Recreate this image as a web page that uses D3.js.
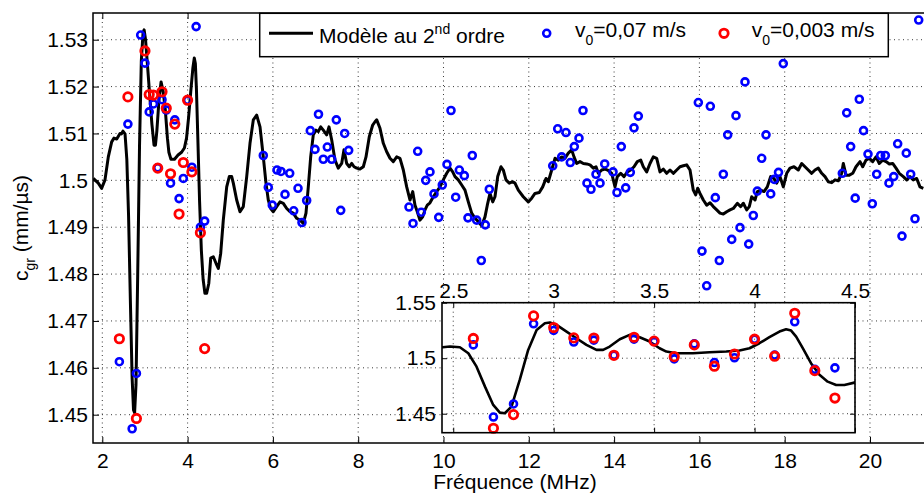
<!DOCTYPE html>
<html>
<head>
<meta charset="utf-8">
<script src="https://cdn.jsdelivr.net/npm/d3@7"></script>
<style>
  body { margin: 0; background: #fff; }
  svg { display: block; font-family: "Liberation Sans", Arial, sans-serif; }
</style>
</head>
<body>
<svg width="924" height="493"></svg>
<script>
// modele au 2nd ordre : [frequence MHz, c_gr mm/us]
const model = [
  [1.789,1.5004],[1.906,1.4994],[1.986,1.4983],[2.063,1.5001],[2.141,1.5050],[2.220,1.5082],
  [2.274,1.5090],[2.338,1.5088],[2.415,1.5100],[2.447,1.5099],[2.484,1.5105],[2.533,1.5099],
  [2.575,1.5045],[2.616,1.4924],[2.658,1.4744],[2.699,1.4579],[2.732,1.4510],[2.757,1.4504],
  [2.790,1.4564],[2.831,1.4804],[2.873,1.5075],[2.915,1.5255],[2.956,1.5315],[2.981,1.5321],
  [3.014,1.5300],[3.064,1.5240],[3.113,1.5180],[3.163,1.5120],[3.213,1.5075],[3.246,1.5075],
  [3.279,1.5105],[3.329,1.5171],[3.378,1.5210],[3.428,1.5189],[3.478,1.5150],[3.527,1.5090],
  [3.561,1.5060],[3.610,1.5045],[3.693,1.5045],[3.776,1.5054],[3.859,1.5060],[3.925,1.5069],
  [3.975,1.5090],[4.024,1.5135],[4.074,1.5189],[4.124,1.5240],[4.157,1.5261],[4.182,1.5249],
  [4.207,1.5195],[4.240,1.5090],[4.281,1.4955],[4.323,1.4850],[4.364,1.4789],[4.406,1.4759],
  [4.447,1.4759],[4.497,1.4780],[4.542,1.4834],[4.603,1.4837],[4.666,1.4823],[4.720,1.4812],
  [4.776,1.4844],[4.837,1.4915],[4.917,1.4986],[4.978,1.5008],[5.034,1.5008],[5.072,1.4994],
  [5.151,1.4958],[5.229,1.4933],[5.306,1.4944],[5.386,1.5008],[5.463,1.5079],[5.541,1.5129],
  [5.620,1.5139],[5.698,1.5114],[5.775,1.5050],[5.838,1.4994],[5.892,1.4958],[5.948,1.4940],
  [6.009,1.4933],[6.089,1.4944],[6.166,1.4954],[6.244,1.4951],[6.324,1.4940],[6.401,1.4933],
  [6.478,1.4930],[6.558,1.4919],[6.635,1.4915],[6.713,1.4908],[6.776,1.4930],[6.830,1.4986],
  [6.886,1.5050],[6.947,1.5097],[7.011,1.5107],[7.064,1.5104],[7.121,1.5114],[7.182,1.5107],
  [7.261,1.5097],[7.315,1.5114],[7.379,1.5086],[7.456,1.5043],[7.533,1.5026],[7.613,1.5036],
  [7.667,1.5065],[7.730,1.5036],[7.791,1.5029],[7.848,1.5036],[7.902,1.5029],[7.965,1.5026],
  [8.042,1.5024],[8.120,1.5029],[8.183,1.5050],[8.260,1.5093],[8.340,1.5118],[8.394,1.5125],
  [8.434,1.5129],[8.511,1.5111],[8.589,1.5079],[8.668,1.5061],[8.746,1.5047],[8.823,1.5040],
  [8.903,1.5050],[8.980,1.5047],[9.058,1.5022],[9.137,1.4986],[9.215,1.4958],[9.278,1.4976],
  [9.332,1.4947],[9.386,1.4933],[9.449,1.4915],[9.512,1.4922],[9.566,1.4937],[9.620,1.4947],
  [9.683,1.4952],[9.761,1.4965],[9.840,1.4976],[9.918,1.4986],[9.995,1.5001],[10.075,1.5015],
  [10.153,1.5026],[10.216,1.5018],[10.270,1.5008],[10.347,1.5001],[10.427,1.4990],[10.504,1.4979],
  [10.582,1.4954],[10.661,1.4930],[10.739,1.4919],[10.816,1.4912],[10.896,1.4903],[10.973,1.4922],
  [11.027,1.4947],[11.090,1.4972],[11.154,1.4954],[11.207,1.4965],[11.271,1.5008],[11.348,1.5029],
  [11.402,1.5022],[11.465,1.5001],[11.543,1.4994],[11.622,1.4997],[11.676,1.4994],[11.754,1.4979],
  [11.871,1.4965],[11.988,1.4954],[12.068,1.4962],[12.145,1.4972],[12.246,1.4974],[12.326,1.4986],
  [12.403,1.5004],[12.457,1.4997],[12.537,1.5022],[12.614,1.5047],[12.692,1.5043],[12.771,1.5050],
  [12.849,1.5047],[12.926,1.5058],[13.006,1.5065],[13.060,1.5050],[13.123,1.5036],[13.200,1.5040],
  [13.278,1.5036],[13.358,1.5035],[13.435,1.5033],[13.513,1.5026],[13.576,1.5029],[13.630,1.5015],
  [13.709,1.5022],[13.787,1.5024],[13.864,1.5021],[13.944,1.5015],[14.021,1.4986],[14.075,1.5008],
  [14.155,1.5015],[14.232,1.5008],[14.310,1.5018],[14.389,1.5022],[14.467,1.5029],[14.544,1.5040],
  [14.624,1.5043],[14.685,1.5029],[14.764,1.5018],[14.842,1.5036],[14.919,1.5050],[14.999,1.5047],
  [15.076,1.5018],[15.154,1.5024],[15.233,1.5015],[15.311,1.5022],[15.388,1.5015],[15.468,1.5022],
  [15.545,1.5029],[15.623,1.5031],[15.702,1.5033],[15.780,1.5022],[15.857,1.4979],[15.913,1.4969],
  [15.960,1.4983],[16.014,1.4972],[16.092,1.4958],[16.171,1.4947],[16.249,1.4952],[16.326,1.4944],
  [16.406,1.4937],[16.483,1.4930],[16.561,1.4928],[16.640,1.4933],[16.718,1.4937],[16.795,1.4940],
  [16.889,1.4951],[16.969,1.4944],[17.030,1.4951],[17.109,1.4937],[17.170,1.4944],[17.226,1.4965],
  [17.304,1.4958],[17.358,1.4976],[17.437,1.4979],[17.515,1.4976],[17.592,1.4986],[17.672,1.5008],
  [17.749,1.5004],[17.812,1.4994],[17.890,1.5008],[17.967,1.4986],[18.047,1.5015],[18.124,1.5026],
  [18.218,1.5029],[18.319,1.5022],[18.399,1.5036],[18.476,1.5029],[18.553,1.5022],[18.633,1.5015],
  [18.711,1.5022],[18.788,1.5026],[18.868,1.5015],[18.945,1.5008],[19.022,1.4997],[19.102,1.4995],
  [19.180,1.5001],[19.257,1.4999],[19.336,1.5015],[19.374,1.5036],[19.437,1.5011],[19.515,1.5011],
  [19.595,1.5015],[19.672,1.5029],[19.766,1.5040],[19.829,1.5029],[19.906,1.5043],[19.984,1.5047],
  [20.063,1.5040],[20.141,1.5050],[20.218,1.5036],[20.297,1.5043],[20.375,1.5040],[20.453,1.5035],
  [20.532,1.5036],[20.610,1.5026],[20.687,1.5015],[20.781,1.5008],[20.861,1.5001],[20.938,1.5008],
  [21.015,1.5001],[21.095,1.5004],[21.172,1.4986],[21.250,1.4983]
];

// mesures v0 = 0,07 m/s
const blue = [
  [2.4,1.4613],[2.6,1.5120],[2.7,1.4470],[2.8,1.4588],[2.9,1.5310],[3.0,1.5250],[3.1,1.5146],
  [3.2,1.5163],[3.3,1.5027],[3.4,1.5172],[3.5,1.5150],[3.6,1.4994],[3.7,1.5129],[3.8,1.4961],
  [3.9,1.5004],[4.0,1.5171],[4.1,1.5028],[4.2,1.5328],[4.3,1.4900],[4.4,1.4913],
  [5.775,1.5053],[5.892,1.4985],[5.986,1.4947],[6.096,1.5022],[6.190,1.5019],[6.284,1.4970],
  [6.394,1.5015],[6.488,1.4935],[6.589,1.4983],[6.682,1.4910],[6.792,1.4957],[6.877,1.5106],
  [6.987,1.5066],[7.069,1.5141],[7.182,1.5045],[7.276,1.5071],[7.379,1.5045],[7.487,1.5129],
  [7.590,1.4936],[7.683,1.5100],[7.777,1.5064],
  [9.191,1.4943],[9.285,1.4908],[9.395,1.5062],[9.479,1.4932],[9.583,1.5000],[9.683,1.5018],
  [9.777,1.4971],[9.888,1.4921],[9.972,1.4990],[10.082,1.5034],[10.176,1.5149],[10.286,1.4964],
  [10.371,1.5022],[10.488,1.5010],[10.574,1.4920],[10.675,1.5053],[10.778,1.4915],[10.886,1.4829],
  [10.980,1.4905],[11.074,1.4981],
  [12.561,1.5031],[12.678,1.5110],[12.771,1.5050],[12.872,1.5102],[12.973,1.5038],[13.067,1.5072],
  [13.177,1.5090],[13.271,1.5149],[13.364,1.4994],[13.458,1.4981],[13.576,1.5013],[13.670,1.4994],
  [13.780,1.5035],[13.975,1.5018],[14.068,1.4974],[14.169,1.5072],[14.272,1.4984],[14.380,1.5017],
  [14.467,1.5112],[14.568,1.5137],
  [15.975,1.5166],[16.061,1.4849],[16.171,1.4775],[16.256,1.5158],[16.373,1.4963],[16.467,1.4829],
  [16.561,1.5013],[16.664,1.5097],[16.758,1.4874],[16.858,1.5138],[16.952,1.4899],[17.069,1.5210],
  [17.156,1.4864],[17.264,1.4925],[17.358,1.4977],[17.461,1.5047],[17.562,1.5097],[17.672,1.4971],
  [17.756,1.5002],[17.855,1.5017],[17.967,1.5249],
  [19.351,1.5015],[19.454,1.5144],[19.547,1.5072],[19.653,1.4962],[19.749,1.5173],[19.848,1.5106],
  [19.953,1.5056],[20.054,1.4950],[20.157,1.5013],[20.251,1.5053],[20.359,1.5053],[20.445,1.4994],
  [20.556,1.5008],[20.649,1.5078],[20.750,1.4881],[20.851,1.5058],[20.954,1.5013],[21.055,1.4918],
  [21.142,1.5342]
];

// mesures v0 = 0,003 m/s
const red = [
  [2.4,1.4662],[2.6,1.5178],[2.7,1.4369],[2.8,1.4492],[2.9,1.5381],[3.0,1.5276],[3.1,1.5183],
  [3.2,1.5182],[3.3,1.5026],[3.4,1.5189],[3.5,1.5154],[3.6,1.5014],[3.7,1.5120],[3.8,1.4928],
  [3.9,1.5038],[4.0,1.5171],[4.1,1.5018],[4.2,1.5405],[4.3,1.4888],[4.4,1.4641]
];

const xTicks = [2, 4, 6, 8, 10, 12, 14, 16, 18, 20];
const yTicks = [1.45, 1.46, 1.47, 1.48, 1.49, 1.5, 1.51, 1.52, 1.53];
const insetXTicks = [2.5, 3, 3.5, 4, 4.5];
const insetYTicks = [1.45, 1.5, 1.55];

const fmt = d => String(+d.toFixed(2));

const svg = d3.select("svg");

// main axes
const x = d3.scaleLinear().domain([1.782, 21.571]).range([93, 937]);
const y = d3.scaleLinear().domain([1.44396, 1.5357]).range([443, 13]);

const defs = svg.append("defs");
defs.append("clipPath").attr("id", "clipMain")
  .append("rect").attr("x", 93).attr("y", 13).attr("width", 844).attr("height", 430);
defs.append("clipPath").attr("id", "clipInset")
  .append("rect").attr("x", 442).attr("y", 302.7).attr("width", 413).attr("height", 130);

function drawPanel(g, xs, ys, xt, yt, clipId, lw) {
  const [x0, x1] = xs.range(), [y0, y1] = ys.range();
  const grid = g.append("g")
    .attr("stroke", "#222").attr("stroke-width", 0.9).attr("stroke-dasharray", "1,3.5");
  grid.selectAll(".gx").data(xt).join("line").attr("class", "gx")
    .attr("x1", d => xs(d)).attr("x2", d => xs(d)).attr("y1", y1).attr("y2", y0);
  grid.selectAll(".gy").data(yt).join("line").attr("class", "gy")
    .attr("y1", d => ys(d)).attr("y2", d => ys(d)).attr("x1", x0).attr("x2", x1);

  const inX = d => d[0] >= xs.domain()[0] && d[0] <= xs.domain()[1];
  const inY = d => d[1] >= ys.domain()[0] && d[1] <= ys.domain()[1];

  g.append("path")
    .datum(model)
    .attr("clip-path", `url(#${clipId})`)
    .attr("fill", "none")
    .attr("stroke", "#000")
    .attr("stroke-width", lw)
    .attr("stroke-linejoin", "round")
    .attr("d", d3.line().x(d => xs(d[0])).y(d => ys(d[1])));

  g.append("g").selectAll("circle")
    .data(blue.filter(d => inX(d) && inY(d)))
    .join("circle")
      .attr("cx", d => xs(d[0])).attr("cy", d => ys(d[1])).attr("r", 3.5)
      .attr("fill", "none").attr("stroke", "#0000ff").attr("stroke-width", 2.6);

  g.append("g").selectAll("circle")
    .data(red.filter(d => inX(d) && inY(d)))
    .join("circle")
      .attr("cx", d => xs(d[0])).attr("cy", d => ys(d[1])).attr("r", 4.2)
      .attr("fill", "none").attr("stroke", "#ff0000").attr("stroke-width", 2.8);
}

const main = svg.append("g");
drawPanel(main, x, y, xTicks, yTicks, "clipMain", 3);

main.append("g")
  .attr("transform", "translate(0,443)")
  .call(d3.axisBottom(x).tickValues(xTicks).tickFormat(fmt).tickSize(-6).tickPadding(10))
  .call(g => g.select(".domain").remove());
main.append("g")
  .attr("transform", "translate(0,13)")
  .call(d3.axisTop(x).tickValues(xTicks).tickFormat("").tickSize(-6))
  .call(g => g.select(".domain").remove());
main.append("g")
  .attr("transform", "translate(93,0)")
  .call(d3.axisLeft(y).tickValues(yTicks).tickFormat(fmt).tickSize(-6).tickPadding(5))
  .call(g => g.select(".domain").remove());

main.selectAll(".tick text").attr("font-size", 21).attr("font-family", "Liberation Sans, Arial, sans-serif").attr("fill", "#000");
main.selectAll(".tick line").attr("stroke", "#000");

main.append("rect")
  .attr("x", 93).attr("y", 13).attr("width", 844).attr("height", 430)
  .attr("fill", "none").attr("stroke", "#000").attr("stroke-width", 1.5);

// axis titles
svg.append("text")
  .attr("x", 515).attr("y", 489)
  .attr("text-anchor", "middle").attr("font-size", 21)
  .text("Fréquence (MHz)");

const yl = svg.append("text")
  .attr("transform", "translate(28,228) rotate(-90)")
  .attr("text-anchor", "middle").attr("font-size", 21);
yl.append("tspan").text("c");
yl.append("tspan").attr("font-size", 14).attr("dy", 7).text("gr");
yl.append("tspan").attr("dy", -7).text(" (mm/µs)");

// legend
const lg = svg.append("g");
lg.append("rect")
  .attr("x", 259.7).attr("y", 13.3).attr("width", 628.6).attr("height", 43.4)
  .attr("fill", "#fff").attr("stroke", "#000").attr("stroke-width", 1.5);
lg.append("line")
  .attr("x1", 269).attr("x2", 313).attr("y1", 33.3).attr("y2", 33.3)
  .attr("stroke", "#000").attr("stroke-width", 3);
const t1 = lg.append("text").attr("x", 319).attr("y", 43.3).attr("font-size", 21);
t1.append("tspan").text("Modèle au 2");
t1.append("tspan").attr("font-size", 14).attr("dy", -9).text("nd");
t1.append("tspan").attr("dy", 9).text(" ordre");

lg.append("circle").attr("cx", 546.7).attr("cy", 33.3).attr("r", 3.5)
  .attr("fill", "none").attr("stroke", "#0000ff").attr("stroke-width", 2.6);
const t2 = lg.append("text").attr("x", 575).attr("y", 36.7).attr("font-size", 21);
t2.append("tspan").text("v");
t2.append("tspan").attr("font-size", 14).attr("dy", 8).text("0");
t2.append("tspan").attr("dy", -8).text("=0,07 m/s");

lg.append("circle").attr("cx", 724).attr("cy", 33.3).attr("r", 4.2)
  .attr("fill", "none").attr("stroke", "#ff0000").attr("stroke-width", 2.8);
const t3 = lg.append("text").attr("x", 751.7).attr("y", 36.7).attr("font-size", 21);
t3.append("tspan").text("v");
t3.append("tspan").attr("font-size", 14).attr("dy", 8).text("0");
t3.append("tspan").attr("dy", -8).text("=0,003 m/s");

// inset zoom 2.4 - 4.5 MHz
const xi = d3.scaleLinear().domain([2.444, 4.5]).range([442, 855]);
const yi = d3.scaleLinear().domain([1.4329, 1.55]).range([432.7, 302.7]);

const inset = svg.append("g");
inset.append("rect")
  .attr("x", 442).attr("y", 302.7).attr("width", 413).attr("height", 130)
  .attr("fill", "#fff");
drawPanel(inset, xi, yi, insetXTicks, insetYTicks, "clipInset", 2.6);

inset.append("g")
  .attr("transform", "translate(0,302.7)")
  .call(d3.axisTop(xi).tickValues(insetXTicks).tickFormat(fmt).tickSize(-5).tickPadding(5))
  .call(g => g.select(".domain").remove());
inset.append("g")
  .attr("transform", "translate(0,432.7)")
  .call(d3.axisBottom(xi).tickValues(insetXTicks).tickFormat("").tickSize(-5))
  .call(g => g.select(".domain").remove());
inset.append("g")
  .attr("transform", "translate(442,0)")
  .call(d3.axisLeft(yi).tickValues(insetYTicks).tickFormat(fmt).tickSize(-5).tickPadding(6))
  .call(g => g.select(".domain").remove());
inset.append("g")
  .attr("transform", "translate(855,0)")
  .call(d3.axisRight(yi).tickValues(insetYTicks).tickFormat("").tickSize(-5))
  .call(g => g.select(".domain").remove());

inset.selectAll(".tick text").attr("font-size", 21).attr("font-family", "Liberation Sans, Arial, sans-serif").attr("fill", "#000");
inset.selectAll(".tick line").attr("stroke", "#000");

inset.append("rect")
  .attr("x", 442).attr("y", 302.7).attr("width", 413).attr("height", 130)
  .attr("fill", "none").attr("stroke", "#000").attr("stroke-width", 1.6);
</script>
</body>
</html>
